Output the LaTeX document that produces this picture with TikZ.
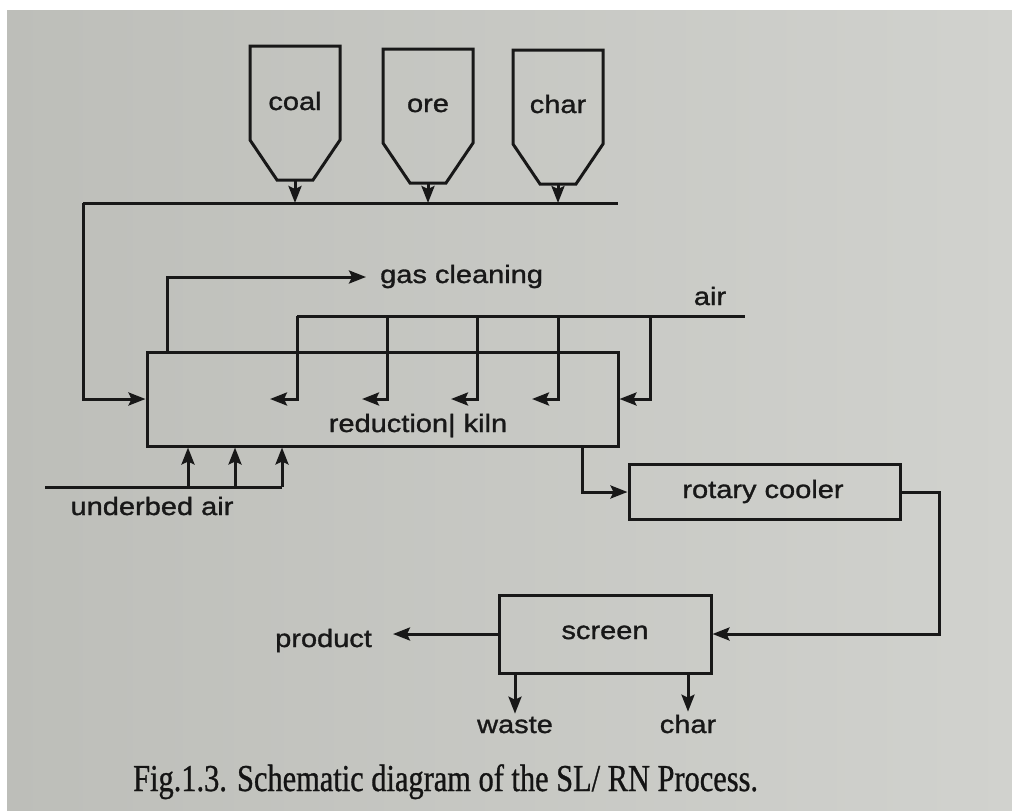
\documentclass[tikz,border=0pt]{standalone}
\usepackage{fontspec}
\usetikzlibrary{arrows.meta}
\newfontfamily\diagfont[FakeStretch=1.16,FakeBold=1.2]{Liberation Sans}
\newfontfamily\capfont[FakeStretch=0.8,FakeBold=0.8]{Liberation Serif}
\definecolor{paperdark}{HTML}{BDBEB9}
\definecolor{paper}{HTML}{D4D5D1}
\definecolor{paperlight}{HTML}{D1D2CE}
\definecolor{ink}{HTML}{181818}

\tikzset{
  wire/.style={draw=ink, line width=3pt, line join=miter},
  flow/.style={wire, -{Stealth[length=17pt,width=13pt,inset=3pt]}},
  unit/.style={draw=ink, line width=3pt, inner sep=0pt, rectangle},
  lbl/.style={font=\diagfont\fontsize{25}{30}\selectfont, text=ink, inner sep=0pt, anchor=base},
  hopper/.pic={
    \draw[wire] (-45,0) -- (-45,94) -- (-18,134) -- (18,134) -- (45,94) -- (45,0) -- cycle;
    \coordinate (-out) at (0,134);
  }
}

\begin{document}
\begin{tikzpicture}[x=1pt,y=-1pt]
  % page
  \useasboundingbox (0,0) rectangle (1012,811);
  \fill[white] (0,0) rectangle (1012,811);
  \shade[left color=paperdark, middle color=paper, right color=paperlight] (7,10) rectangle (1012,811);

  % feed hoppers
  \pic (coal) at (295,46) {hopper};
  \pic (ore)  at (428,49) {hopper};
  \pic (char) at (558,50) {hopper};
  \node[lbl] (coallbl) at (295,110) {coal};
  \node[lbl] (orelbl)  at (428,112) {ore};
  \node[lbl] (charlbl) at (558,113) {char};

  % feed line
  \coordinate (feedL) at (83,203);
  \coordinate (feedR) at (618,203);
  \draw[wire] (feedL) -- (feedR);
  \foreach \h in {coal,ore,char}
    \draw[flow] (\h-out) -- (\h-out |- feedL);

  % main units
  \node[unit, minimum width=471pt, minimum height=94pt] (kiln) at (382.5,399) {};
  \node[lbl] (kilnlbl) at (418,432) {reduction| kiln};
  \node[unit, minimum width=271pt, minimum height=55pt] (cooler) at (764.5,492) {};
  \node[lbl] (coolerlbl) at (763,498) {rotary cooler};
  \node[unit, minimum width=212pt, minimum height=78pt] (screen) at (605,634) {};
  \node[lbl] (screenlbl) at (605,639) {screen};

  % feed into kiln
  \draw[flow] (feedL) |- (kiln.west);

  % off-gas
  \coordinate (gasx) at (167,0);
  \coordinate (gastip) at (366,277);
  \draw[flow] (kiln.north -| gasx) |- (gastip);
  \node[lbl, anchor=base west] (gas) at (380,283) {gas cleaning};

  % air header and injection points
  \coordinate (airL) at (297,316);
  \coordinate (airR) at (745,316);
  \draw[wire] (airL) -- (airR);
  \node[lbl] (air) at (710,305) {air};
  \coordinate (d1) at (297,316); \coordinate (t1) at (270,399);
  \coordinate (d2) at (387,316); \coordinate (t2) at (362,399);
  \coordinate (d3) at (477,316); \coordinate (t3) at (451,399);
  \coordinate (d4) at (558,316); \coordinate (t4) at (532,399);
  \coordinate (d5) at (650,316);
  \draw[flow] (d1) |- (t1);
  \draw[flow] (d2) |- (t2);
  \draw[flow] (d3) |- (t3);
  \draw[flow] (d4) |- (t4);
  \draw[flow] (d5) |- (kiln.east);

  % underbed air
  \coordinate (ub0) at (45,487);
  \coordinate (u1) at (188,487);
  \coordinate (u2) at (235,487);
  \coordinate (u3) at (282,487);
  \draw[wire] (ub0) -- (u3);
  \draw[flow] (u1) -- (u1 |- kiln.south);
  \draw[flow] (u2) -- (u2 |- kiln.south);
  \draw[flow] (u3) -- (u3 |- kiln.south);
  \node[lbl] (ublbl) at (152,515) {underbed air};

  % kiln discharge to cooler
  \coordinate (kx) at (582,0);
  \draw[flow] (kx |- kiln.south) |- (cooler.west);

  % cooler to screen
  \coordinate (rx) at (939,0);
  \draw[flow] (cooler.east) -- (cooler.east -| rx) |- (screen.east);

  % screen products
  \coordinate (prodtip) at (393,0);
  \draw[flow] (screen.west) -- (screen.west -| prodtip);
  \node[lbl, anchor=base west] (product) at (275,647) {product};
  \node[lbl, inner ysep=3pt] (waste) at (515,733) {waste};
  \node[lbl, inner ysep=3pt] (charout) at (688,733) {char};
  \draw[flow] (screen.south -| waste) -- (waste.north);
  \draw[flow] (screen.south -| charout) -- (charout.north);

  % caption
  \node[font=\capfont\fontsize{38}{44}\selectfont, text=black!92, inner sep=0pt, anchor=base west] (caption)
    at (133,791) {Fig.1.3. Schematic diagram of the SL/ RN Process.};
\end{tikzpicture}
\end{document}
